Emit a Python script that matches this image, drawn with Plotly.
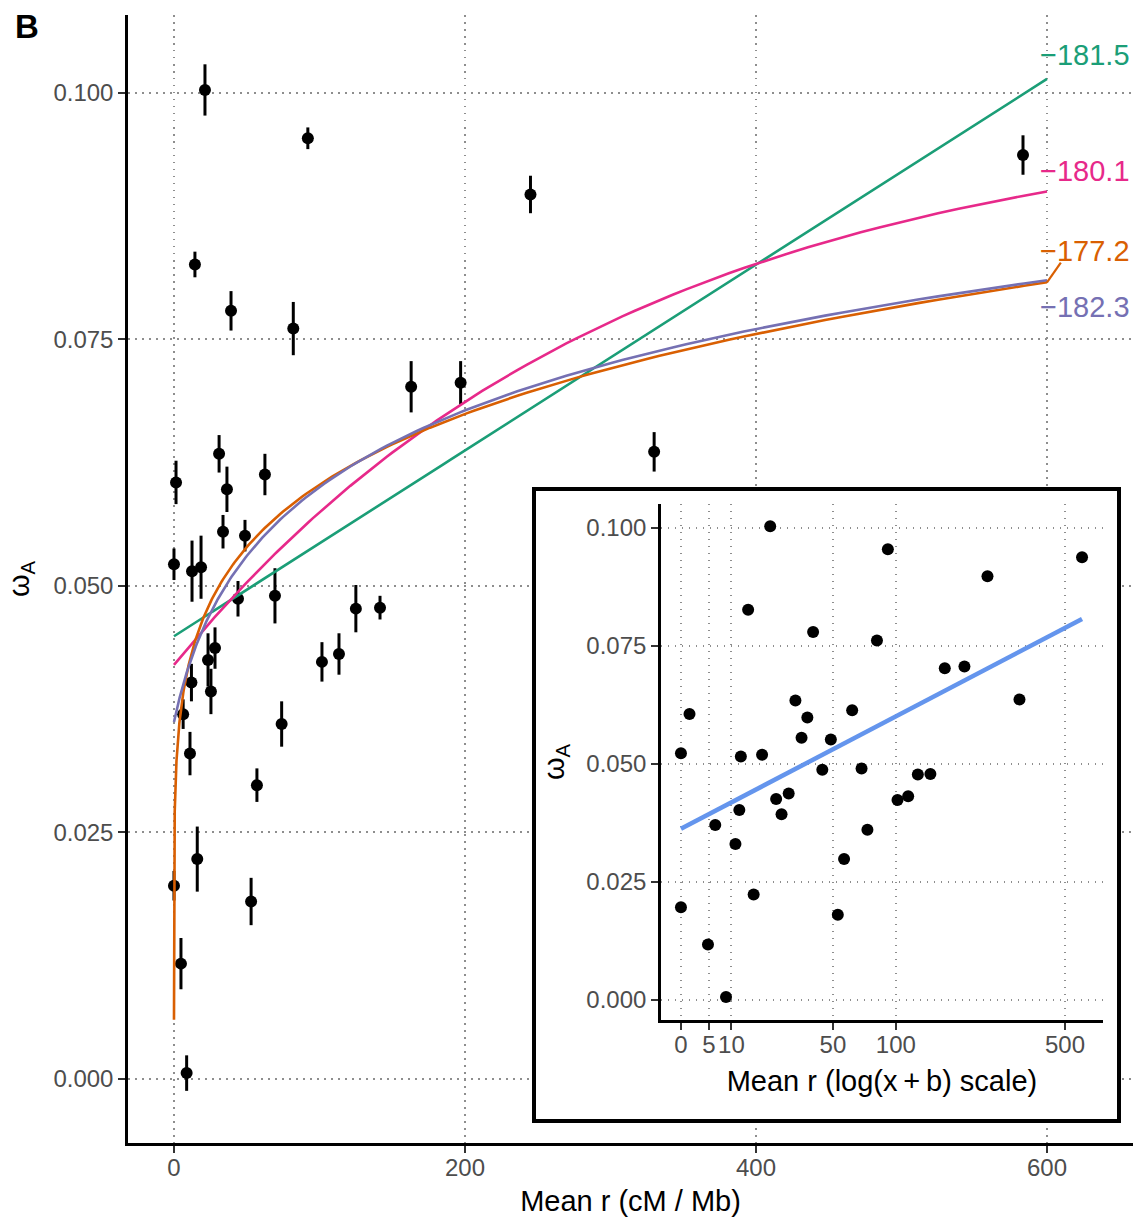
import numpy as np
import plotly.graph_objects as go

# ---------------- data ----------------
mean_r = [0, 1.4, 0, 4.8, 6.3, 8.7, 11, 12, 12.4, 14.4, 16, 18.6, 21.3, 23.4, 25.4,
          28.2, 31, 33.7, 36.4, 39.2, 44, 48.8, 53, 57, 62.5, 69.4, 74, 82, 92,
          101.7, 113.4, 125, 141.6, 163, 197, 245, 330, 583.5]
omega_a = [0.0522, 0.0605, 0.0196, 0.0117, 0.0370, 0.0006, 0.0330, 0.0402, 0.0515,
           0.0826, 0.0223, 0.0519, 0.1003, 0.0425, 0.0393, 0.0437, 0.0634, 0.0555,
           0.0598, 0.0779, 0.0487, 0.0551, 0.0180, 0.0298, 0.0613, 0.0490, 0.0360,
           0.0761, 0.0954, 0.0423, 0.0431, 0.0477, 0.0478, 0.0702, 0.0706, 0.0897,
           0.0636, 0.0937]
omega_se = [0.0016, 0.0022, 0.0015, 0.0026, 0.0015, 0.0018, 0.0022, 0.0019, 0.0031,
            0.0013, 0.0033, 0.0032, 0.0026, 0.0027, 0.0023, 0.0021, 0.0019, 0.0017,
            0.0023, 0.0020, 0.0018, 0.0016, 0.0024, 0.0017, 0.0021, 0.0028, 0.0023,
            0.0027, 0.0011, 0.0020, 0.0021, 0.0024, 0.0012, 0.0026, 0.0022, 0.0019,
            0.0020, 0.0020]

# model fits (parameters)
b_shift = 18.0                       # b in log(x + b)
linear_fit = [0.0449, 0.0000942]     # intercept, slope
satur_fit = [0.042, 0.0561, 310.0]   # y0, amplitude, scale
power_fit = [0.006, 0.0238, 0.179]   # y0, coef, exponent
logb_fit = [-0.00042, 0.01267]       # intercept, slope on log(x + b)

model_labels = ["\u2212181.5", "\u2212180.1", "\u2212177.2", "\u2212182.3"]
label_y = [0.1038, 0.0921, 0.0840, 0.0783]
model_colors = ["#1B9E77", "#E7298A", "#D95F02", "#7570B3"]

x_ticks = [0, 200, 400, 600]
y_ticks = [0, 0.025, 0.05, 0.075, 0.1]
y_ticktext = ["0.000", "0.025", "0.050", "0.075", "0.100"]
inset_ticks = [0, 5, 10, 50, 100, 500]

# ---------------- curves ----------------
xr = np.concatenate([[0.0], np.geomspace(1e-3, 600, 500)])
curves = [
    linear_fit[0] + linear_fit[1] * xr,
    satur_fit[0] + satur_fit[1] * (1 - np.exp(-xr / satur_fit[2])),
    power_fit[0] + power_fit[1] * xr ** power_fit[2],
    logb_fit[0] + logb_fit[1] * np.log(xr + b_shift),
]

FONT = "Liberation Sans, Arial, sans-serif"
GRID = "#8E8E8E"
TICKC = "#4D4D4D"

fig = go.Figure()

# main points with error bars
fig.add_trace(go.Scatter(
    x=mean_r, y=omega_a, mode="markers",
    marker=dict(color="black", size=12),
    error_y=dict(type="data", array=omega_se, color="black", thickness=3, width=0),
    xaxis="x", yaxis="y", showlegend=False, hoverinfo="skip"))

for yc, col in zip(curves, model_colors):
    fig.add_trace(go.Scatter(x=xr, y=yc, mode="lines", line=dict(color=col, width=2.6),
                             xaxis="x", yaxis="y", showlegend=False, hoverinfo="skip"))

# labels for the models
for txt, ly, col in zip(model_labels, label_y, model_colors):
    fig.add_annotation(x=593.5, y=ly, xref="x", yref="y", text=txt, showarrow=False,
                       xanchor="left", yanchor="middle",
                       font=dict(family=FONT, size=29, color=col))
# repel segment for the orange label
fig.add_shape(type="line", xref="x", yref="y", x0=600, y0=curves[2][-1], x1=609.5, y1=0.0828,
              line=dict(color=model_colors[2], width=2.2))

# box subplot (white background + frame) for the inset
fig.add_trace(go.Scatter(x=[], y=[], xaxis="x2", yaxis="y2", showlegend=False))

# inset
inset_x = np.log(np.array(mean_r) + b_shift)
fig.add_trace(go.Scatter(x=inset_x, y=omega_a, mode="markers",
                         marker=dict(color="black", size=12),
                         xaxis="x3", yaxis="y3", showlegend=False, hoverinfo="skip"))
r_line = np.array([min(mean_r), max(mean_r)])
fig.add_trace(go.Scatter(x=np.log(r_line + b_shift),
                         y=logb_fit[0] + logb_fit[1] * np.log(r_line + b_shift),
                         mode="lines", line=dict(color="#6495ED", width=4.5),
                         xaxis="x3", yaxis="y3", showlegend=False, hoverinfo="skip"))

axis_common = dict(showline=True, linecolor="black", linewidth=2.5, mirror=False,
                   ticks="outside", ticklen=7, tickwidth=2.2, tickcolor="#333333",
                   showgrid=True, gridcolor=GRID, gridwidth=1.5, griddash="1.5px,5.5px",
                   zeroline=False, tickfont=dict(family=FONT, size=24, color=TICKC),
                   automargin=False)

fig.update_layout(
    width=1133, height=1217,
    margin=dict(l=128, r=0, t=15, b=74),
    paper_bgcolor="white", plot_bgcolor="white",
    font=dict(family=FONT),
    xaxis=dict(domain=[0, 1], range=[-31.6, 659.1], tickvals=x_ticks, anchor="y",
               ticklabelstandoff=-6,
               title=dict(text="Mean r (cM / Mb)", font=dict(size=29, color="black"), standoff=12),
               **axis_common),
    yaxis=dict(domain=[0, 1], range=[-0.00649, 0.1079], tickvals=y_ticks, ticktext=y_ticktext,
               anchor="x",
               title=dict(text="\u03c9<sub>A</sub>", font=dict(size=29, color="black"), standoff=16),
               **axis_common),
    xaxis2=dict(domain=[0.406, 0.9841], range=[0, 1], anchor="y2", showline=True, mirror=True,
                linecolor="black", linewidth=3.5, showgrid=False, zeroline=False,
                showticklabels=False, ticks=""),
    yaxis2=dict(domain=[0.0213, 0.578], range=[0, 1], anchor="x2", showline=True, mirror=True,
                linecolor="black", linewidth=3.5, showgrid=False, zeroline=False,
                showticklabels=False, ticks=""),
    xaxis3=dict(domain=[0.5303, 0.9701], range=[2.7154, 6.5824], anchor="y3",
                tickvals=list(np.log(np.array(inset_ticks) + b_shift)),
                ticktext=[str(t) for t in inset_ticks],
                ticklabelstandoff=-6,
                title=dict(text="Mean r (log(x\u2009+\u2009b) scale)", font=dict(size=29, color="black"),
                           standoff=15),
                **axis_common),
    yaxis3=dict(domain=[0.1090, 0.5665], range=[-0.0043, 0.1050], anchor="x3",
                tickvals=y_ticks, ticktext=y_ticktext,
                title=dict(text="\u03c9<sub>A</sub>", font=dict(size=29, color="black"), standoff=14),
                **axis_common),
)

fig.add_annotation(x=-0.1005, y=0.9894, xref="paper", yref="paper", text="<b>B</b>",
                   showarrow=False, xanchor="center", yanchor="middle",
                   font=dict(family=FONT, size=33, color="black"))

fig.write_html("out.html")
